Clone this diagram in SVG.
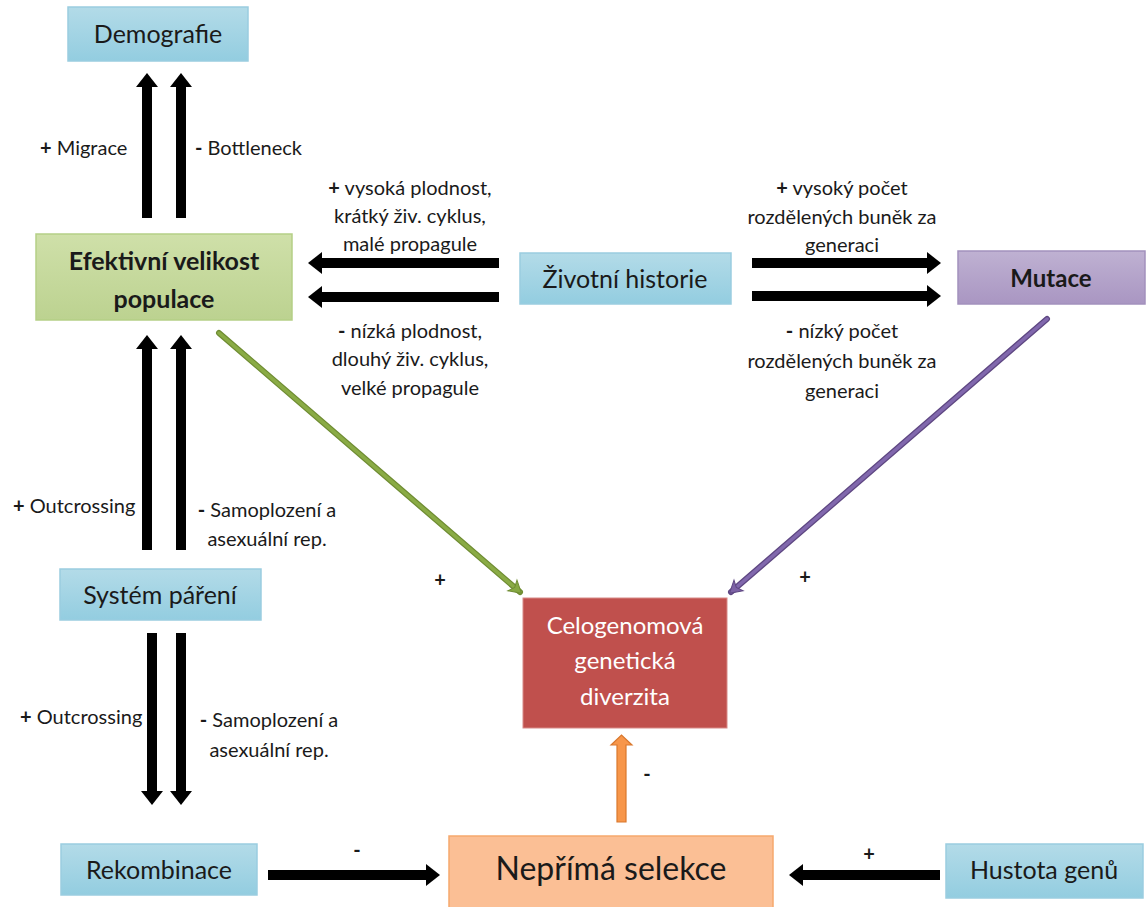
<svg xmlns="http://www.w3.org/2000/svg" width="1146" height="907" viewBox="0 0 1146 907">
<style>
text{font-family:Lato,"Liberation Sans",sans-serif;fill:#1a1a1a}
.nl{font-size:25px;text-anchor:middle}
.nb{font-size:25px;font-weight:bold;text-anchor:middle}
.lb{font-size:20px}
.lc{font-size:20px;text-anchor:middle}
.sg{font-weight:bold}
.blk{stroke:#000;stroke-width:10;fill:none}
</style>
<defs>
<linearGradient id="gBlue" x1="0" y1="0" x2="0" y2="1"><stop offset="0" stop-color="#b3dbe8"/><stop offset="1" stop-color="#93cde0"/></linearGradient>
<linearGradient id="gGreen" x1="0" y1="0" x2="0" y2="1"><stop offset="0" stop-color="#cfe0a9"/><stop offset="1" stop-color="#bcd290"/></linearGradient>
<linearGradient id="gPurple" x1="0" y1="0" x2="0" y2="1"><stop offset="0" stop-color="#bfb1d2"/><stop offset="1" stop-color="#a996c2"/></linearGradient>
<marker id="mBlk" markerUnits="userSpaceOnUse" markerWidth="16" markerHeight="24" refX="0" refY="11" orient="auto" overflow="visible"><path d="M0,0 L14,11 L0,22 z" fill="#000"/></marker>
<marker id="mGreen" markerUnits="userSpaceOnUse" markerWidth="16" markerHeight="16" refX="10" refY="7" orient="auto" overflow="visible"><path d="M0,0 L12,7 L0,14 L3,7 z" fill="#86a842" stroke="#6f8c33" stroke-width="1"/></marker>
<marker id="mPurple" markerUnits="userSpaceOnUse" markerWidth="16" markerHeight="16" refX="10" refY="7" orient="auto" overflow="visible"><path d="M0,0 L12,7 L0,14 L3,7 z" fill="#7d62a6" stroke="#5e4782" stroke-width="1"/></marker>
</defs>

<g id="connectors">
<line class="blk" x1="147" y1="218" x2="147" y2="87" marker-end="url(#mBlk)"/>
<line class="blk" x1="181" y1="218" x2="181" y2="87" marker-end="url(#mBlk)"/>
<line class="blk" x1="147" y1="550" x2="147" y2="349" marker-end="url(#mBlk)"/>
<line class="blk" x1="181" y1="550" x2="181" y2="349" marker-end="url(#mBlk)"/>
<line class="blk" x1="152" y1="633" x2="152" y2="791" marker-end="url(#mBlk)"/>
<line class="blk" x1="181" y1="633" x2="181" y2="791" marker-end="url(#mBlk)"/>
<line class="blk" x1="499" y1="263" x2="322" y2="263" marker-end="url(#mBlk)"/>
<line class="blk" x1="499" y1="297" x2="322" y2="297" marker-end="url(#mBlk)"/>
<line class="blk" x1="752" y1="263" x2="927" y2="263" marker-end="url(#mBlk)"/>
<line class="blk" x1="752" y1="296" x2="927" y2="296" marker-end="url(#mBlk)"/>
<line class="blk" x1="268" y1="875" x2="426" y2="875" marker-end="url(#mBlk)"/>
<line class="blk" x1="940" y1="875" x2="803" y2="875" marker-end="url(#mBlk)"/>
<line x1="219" y1="333" x2="520" y2="592" stroke="#6f8c33" stroke-width="6" stroke-linecap="round"/>
<line x1="219" y1="333" x2="520" y2="592" stroke="#8aab45" stroke-width="3.5" stroke-linecap="round" marker-end="url(#mGreen)"/>
<line x1="1047" y1="319" x2="731" y2="592" stroke="#5e4782" stroke-width="6" stroke-linecap="round"/>
<line x1="1047" y1="319" x2="731" y2="592" stroke="#8168ad" stroke-width="3.5" stroke-linecap="round" marker-end="url(#mPurple)"/>
<path d="M617,822 L617,745 L611,745 L621.5,735 L632,745 L626,745 L626,822 z" fill="#f7964a" stroke="#d9782e" stroke-width="1.2"/>
</g>

<g id="labels">
<text class="lb" x="40" y="155"><tspan class="sg">+</tspan> Migrace</text>
<text class="lb" x="195" y="155"><tspan class="sg">-</tspan> Bottleneck</text>
<text class="lc" x="410" y="195"><tspan class="sg">+</tspan> vysoká plodnost,</text>
<text class="lc" x="410" y="223">krátký živ. cyklus,</text>
<text class="lc" x="410" y="251">malé propagule</text>
<text class="lc" x="410" y="338"><tspan class="sg">-</tspan> nízká plodnost,</text>
<text class="lc" x="410" y="366">dlouhý živ. cyklus,</text>
<text class="lc" x="410" y="395">velké propagule</text>
<text class="lc" x="842" y="195"><tspan class="sg">+</tspan> vysoký počet</text>
<text class="lc" x="842" y="224">rozdělených buněk za</text>
<text class="lc" x="842" y="252">generaci</text>
<text class="lc" x="842" y="338"><tspan class="sg">-</tspan> nízký počet</text>
<text class="lc" x="842" y="368">rozdělených buněk za</text>
<text class="lc" x="842" y="398">generaci</text>
<text class="lb" x="13" y="513"><tspan class="sg">+</tspan> Outcrossing</text>
<text class="lc" x="267" y="517"><tspan class="sg">-</tspan> Samoplození a</text>
<text class="lc" x="267" y="546">asexuální rep.</text>
<text class="lb" x="20" y="724"><tspan class="sg">+</tspan> Outcrossing</text>
<text class="lc" x="269" y="727"><tspan class="sg">-</tspan> Samoplození a</text>
<text class="lc" x="269" y="757">asexuální rep.</text>
<text class="lc sg" x="440" y="587">+</text>
<text class="lc sg" x="805" y="584">+</text>
<text class="lc sg" x="647" y="781">-</text>
<text class="lc sg" x="357" y="857">-</text>
<text class="lc sg" x="869" y="861">+</text>
</g>

<g id="demografie">
<rect x="68" y="7" width="180" height="54" fill="url(#gBlue)" stroke="#9acde0" stroke-width="1.5"/>
<text class="nl" x="158" y="43">Demografie</text>
</g>
<g id="efektivni">
<rect x="36" y="234" width="256" height="86" fill="url(#gGreen)" stroke="#b5cf86" stroke-width="1.5"/>
<text class="nb" x="164" y="270">Efektivní velikost</text>
<text class="nb" x="164" y="308">populace</text>
</g>
<g id="zivotni">
<rect x="520" y="253" width="211" height="51" fill="url(#gBlue)" stroke="#9acde0" stroke-width="1.5"/>
<text class="nl" x="625" y="288">Životní historie</text>
</g>
<g id="mutace">
<rect x="958" y="251" width="187" height="53" fill="url(#gPurple)" stroke="#a391bd" stroke-width="1.5"/>
<text class="nb" x="1051" y="287" style="font-size:24px">Mutace</text>
</g>
<g id="system">
<rect x="60" y="569" width="201" height="51" fill="url(#gBlue)" stroke="#9acde0" stroke-width="1.5"/>
<text class="nl" x="160" y="604">Systém páření</text>
</g>
<g id="rekombinace">
<rect x="61" y="844" width="196" height="51" fill="url(#gBlue)" stroke="#9acde0" stroke-width="1.5"/>
<text class="nl" x="159" y="879">Rekombinace</text>
</g>
<g id="celogenomova">
<rect x="523" y="598" width="204" height="130" fill="#c0504d" stroke="#d88a88" stroke-width="1"/>
<text class="nl" x="625" y="634" style="fill:#fff;font-size:24px">Celogenomová</text>
<text class="nl" x="625" y="669" style="fill:#fff;font-size:24px">genetická</text>
<text class="nl" x="625" y="705" style="fill:#fff;font-size:24px">diverzita</text>
</g>
<g id="neprima">
<rect x="449" y="836" width="324" height="75" fill="#fbbf95" stroke="#f6a96e" stroke-width="1.5"/>
<text class="nl" x="611" y="880" style="font-size:32px">Nepřímá selekce</text>
</g>
<g id="hustota">
<rect x="946" y="844" width="197" height="54" fill="url(#gBlue)" stroke="#9acde0" stroke-width="1.5"/>
<text class="nl" x="1044" y="879">Hustota genů</text>
</g>
</svg>
